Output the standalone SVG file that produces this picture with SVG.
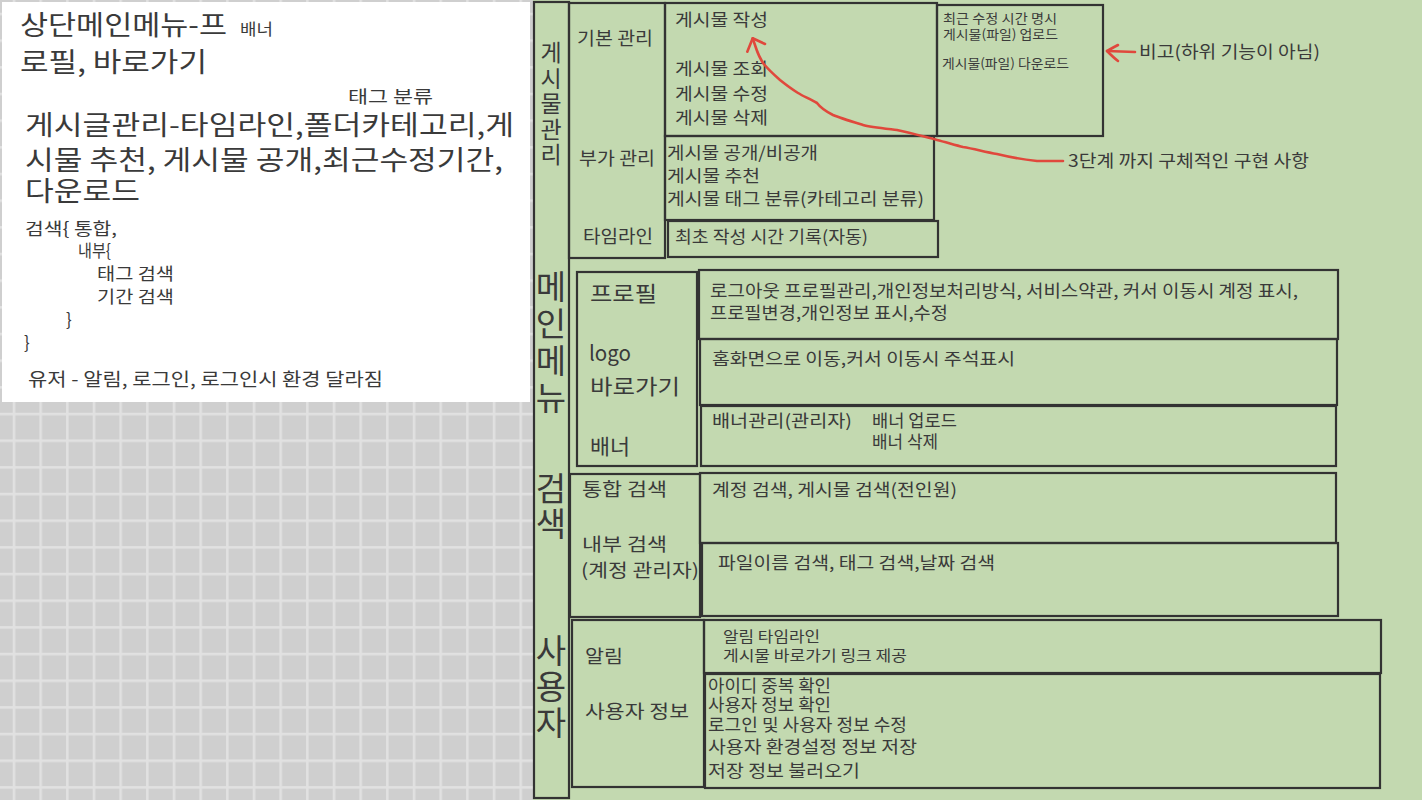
<svg xmlns="http://www.w3.org/2000/svg" width="1422" height="800" viewBox="0 0 1422 800">
<style>
.box{fill:none;stroke:#333;stroke-width:2.2}
.t{font-family:"Noto Sans CJK KR","Noto Sans",sans-serif;fill:#3a3a3a}
.v{font-family:"Noto Sans CJK KR","Noto Sans",sans-serif;fill:#3a3a3a;writing-mode:vertical-rl;text-orientation:upright}
.red{fill:none;stroke:#e0483c;stroke-width:2.6;stroke-linecap:round;stroke-linejoin:round}
.f27{font-size:27px}.f21{font-size:21px}.f18{font-size:18px}.f17{font-size:17px}.f16{font-size:16px}.f15{font-size:15px}.f13{font-size:13px}
</style>
<defs>
<pattern id="grid" x="12.7" y="12.7" width="26.67" height="26.67" patternUnits="userSpaceOnUse">
<rect width="26.67" height="26.67" fill="#cfcfcf"/>
<rect width="2.6" height="26.67" fill="#e1e1e1"/>
<rect width="26.67" height="2.6" fill="#e1e1e1"/>
</pattern>
</defs>
<rect width="1422" height="800" fill="url(#grid)"/>
<rect x="533" y="0" width="889" height="800" fill="#c3d9b0"/>

<g id="notes">
<rect x="2" y="2" width="528" height="400" fill="#ffffff"/>
<text class="t f27" x="20" y="35" textLength="207" lengthAdjust="spacingAndGlyphs">상단메인메뉴-프</text>
<text class="t f16" x="240" y="35" textLength="33" lengthAdjust="spacingAndGlyphs">배너</text>
<text class="t f27" x="20" y="72" textLength="187" lengthAdjust="spacingAndGlyphs">로필, 바로가기</text>
<text class="t f17" x="348" y="103" textLength="85" lengthAdjust="spacingAndGlyphs">태그 분류</text>
<text class="t f27"><tspan x="25" y="135" textLength="489" lengthAdjust="spacingAndGlyphs">게시글관리-타임라인,폴더카테고리,게</tspan><tspan x="25" y="170" textLength="478" lengthAdjust="spacingAndGlyphs">시물 추천, 게시물 공개,최근수정기간,</tspan><tspan x="25" y="201" textLength="115" lengthAdjust="spacingAndGlyphs">다운로드</tspan></text>
<text class="t f17"><tspan x="25" y="235" textLength="92" lengthAdjust="spacingAndGlyphs">검색{ 통합,</tspan><tspan x="78" y="257" textLength="33" lengthAdjust="spacingAndGlyphs">내부{</tspan><tspan x="97" y="280" textLength="77" lengthAdjust="spacingAndGlyphs">태그 검색</tspan><tspan x="97" y="303" textLength="77" lengthAdjust="spacingAndGlyphs">기간 검색</tspan><tspan x="66" y="326">}</tspan><tspan x="24" y="349">}</tspan></text>
<text class="t f18" x="28" y="386" textLength="355" lengthAdjust="spacingAndGlyphs">유저 - 알림, 로그인, 로그인시 환경 달라짐</text>
</g>

<g id="col-main">
<rect class="box" x="534" y="2" width="35" height="796"/>
<text class="v" x="551" y="41" font-size="23" letter-spacing="2.5">게시물관리</text>
<text class="v" x="551" y="270" font-size="33" letter-spacing="4">메인메뉴</text>
<text class="v" x="551" y="472" font-size="33" letter-spacing="2">검색</text>
<text class="v" x="551" y="634" font-size="33" letter-spacing="3">사용자</text>
</g>

<g id="board-mgmt">
<rect class="box" x="569" y="3" width="96" height="255"/>
<text class="t f18" x="577" y="45" textLength="76" lengthAdjust="spacingAndGlyphs">기본 관리</text>
<text class="t f18" x="579" y="165" textLength="76" lengthAdjust="spacingAndGlyphs">부가 관리</text>
<text class="t f18" x="583" y="243" textLength="70" lengthAdjust="spacingAndGlyphs">타임라인</text>
</g>
<g id="board-basic">
<rect class="box" x="665" y="3" width="272" height="133"/>
<text class="t f17" x="675" y="26" textLength="93" lengthAdjust="spacingAndGlyphs">게시물 작성</text>
<text class="t f17"><tspan x="675" y="75" textLength="93" lengthAdjust="spacingAndGlyphs">게시물 조회</tspan><tspan x="675" y="100" textLength="93" lengthAdjust="spacingAndGlyphs">게시물 수정</tspan><tspan x="675" y="124" textLength="93" lengthAdjust="spacingAndGlyphs">게시물 삭제</tspan></text>
</g>
<g id="board-extra">
<rect class="box" x="665" y="136" width="269" height="84"/>
<text class="t f17"><tspan x="667" y="159" textLength="151" lengthAdjust="spacingAndGlyphs">게시물 공개/비공개</tspan><tspan x="667" y="182" textLength="93" lengthAdjust="spacingAndGlyphs">게시물 추천</tspan><tspan x="667" y="205" textLength="257" lengthAdjust="spacingAndGlyphs">게시물 태그 분류(카테고리 분류)</tspan></text>
</g>
<g id="board-timeline">
<rect class="box" x="668" y="221" width="270" height="36"/>
<text class="t f17" x="675" y="243" textLength="193" lengthAdjust="spacingAndGlyphs">최초 작성 시간 기록(자동)</text>
</g>
<g id="board-note">
<rect class="box" x="937" y="5" width="166" height="131"/>
<text class="t f13"><tspan x="943" y="23" textLength="114" lengthAdjust="spacingAndGlyphs">최근 수정 시간 명시</tspan><tspan x="943" y="39" textLength="115" lengthAdjust="spacingAndGlyphs">게시물(파일) 업로드</tspan></text>
<text class="t f13" x="942" y="68" textLength="127" lengthAdjust="spacingAndGlyphs">게시물(파일) 다운로드</text>
</g>

<g id="menu-left">
<rect class="box" x="577" y="272" width="120" height="194"/>
<text class="t f21" x="590" y="301" textLength="67" lengthAdjust="spacingAndGlyphs">프로필</text>
<text class="t f21"><tspan x="589" y="361" textLength="42" lengthAdjust="spacingAndGlyphs">logo</tspan><tspan x="590" y="394" textLength="90" lengthAdjust="spacingAndGlyphs">바로가기</tspan></text>
<text class="t f21" x="590" y="454" textLength="40" lengthAdjust="spacingAndGlyphs">배너</text>
</g>
<g id="menu-profile">
<rect class="box" x="699" y="270" width="639" height="69"/>
<text class="t f17"><tspan x="710" y="297" textLength="588" lengthAdjust="spacingAndGlyphs">로그아웃 프로필관리,개인정보처리방식, 서비스약관, 커서 이동시 계정 표시,</tspan><tspan x="710" y="319" textLength="238" lengthAdjust="spacingAndGlyphs">프로필변경,개인정보 표시,수정</tspan></text>
</g>
<g id="menu-logo">
<rect class="box" x="700" y="339" width="637" height="66"/>
<text class="t f17" x="712" y="365" textLength="303" lengthAdjust="spacingAndGlyphs">홈화면으로 이동,커서 이동시 주석표시</text>
</g>
<g id="menu-banner">
<rect class="box" x="701" y="406" width="635" height="60"/>
<text class="t f17" x="712" y="427" textLength="140" lengthAdjust="spacingAndGlyphs">배너관리(관리자)</text>
<text class="t f17"><tspan x="872" y="427" textLength="85" lengthAdjust="spacingAndGlyphs">배너 업로드</tspan><tspan x="872" y="448" textLength="66" lengthAdjust="spacingAndGlyphs">배너 삭제</tspan></text>
</g>

<g id="search-left">
<rect class="box" x="570" y="474" width="130" height="143"/>
<text class="t f18" x="582" y="496" textLength="85" lengthAdjust="spacingAndGlyphs">통합 검색</text>
<text class="t f18"><tspan x="582" y="551" textLength="85" lengthAdjust="spacingAndGlyphs">내부 검색</tspan><tspan x="581" y="577" textLength="118" lengthAdjust="spacingAndGlyphs">(계정 관리자)</tspan></text>
</g>
<g id="search-all">
<rect class="box" x="700" y="473" width="636" height="70"/>
<text class="t f17" x="712" y="496" textLength="245" lengthAdjust="spacingAndGlyphs">계정 검색, 게시물 검색(전인원)</text>
</g>
<g id="search-inner">
<rect class="box" x="702" y="543" width="636" height="73"/>
<text class="t f17" x="718" y="569" textLength="277" lengthAdjust="spacingAndGlyphs">파일이름 검색, 태그 검색,날짜 검색</text>
</g>

<g id="user-left">
<rect class="box" x="572" y="620" width="132" height="167"/>
<text class="t f18" x="585" y="663" textLength="38" lengthAdjust="spacingAndGlyphs">알림</text>
<text class="t f18" x="585" y="718" textLength="104" lengthAdjust="spacingAndGlyphs">사용자 정보</text>
</g>
<g id="user-alarm">
<rect class="box" x="704" y="620" width="677" height="53"/>
<text class="t f15"><tspan x="723" y="642" textLength="97" lengthAdjust="spacingAndGlyphs">알림 타임라인</tspan><tspan x="723" y="661" textLength="184" lengthAdjust="spacingAndGlyphs">게시물 바로가기 링크 제공</tspan></text>
</g>
<g id="user-info">
<rect class="box" x="705" y="674" width="675" height="114"/>
<text class="t f17"><tspan x="708" y="692" textLength="123" lengthAdjust="spacingAndGlyphs">아이디 중복 확인</tspan><tspan x="708" y="711" textLength="123" lengthAdjust="spacingAndGlyphs">사용자 정보 확인</tspan><tspan x="708" y="731" textLength="199" lengthAdjust="spacingAndGlyphs">로그인 및 사용자 정보 수정</tspan><tspan x="708" y="753" textLength="209" lengthAdjust="spacingAndGlyphs">사용자 환경설정 정보 저장</tspan><tspan x="708" y="777" textLength="152" lengthAdjust="spacingAndGlyphs">저장 정보 불러오기</tspan></text>
</g>

<g id="connectors">
<path class="red" d="M1063,161 L1037,161 C1020,159 1005,156 997,154 C985,152 975,149 963,147 C955,145 945,142 937,140 C925,137 912,133 897,130 C880,128 870,127 863,125 C850,121 840,118 833,115 C825,111 820,107 817,103 C810,99 803,96 798,93 C790,88 785,84 780,80 C772,73 767,68 763,63 C760,58 758,54 756.7,50 L752.7,38.3"/>
<path class="red" d="M747.3,51.7 L752.7,38.3 L765,44"/>
<path class="red" d="M1135,52 L1107,51"/>
<path class="red" d="M1118,45 C1112,48 1109,50 1107,51 C1110,54 1114,58 1118,61"/>
<text class="t f17" x="1068" y="167" textLength="241" lengthAdjust="spacingAndGlyphs">3단계 까지 구체적인 구현 사항</text>
<text class="t f17" x="1139" y="58" textLength="181" lengthAdjust="spacingAndGlyphs">비고(하위 기능이 아님)</text>
</g>
</svg>
